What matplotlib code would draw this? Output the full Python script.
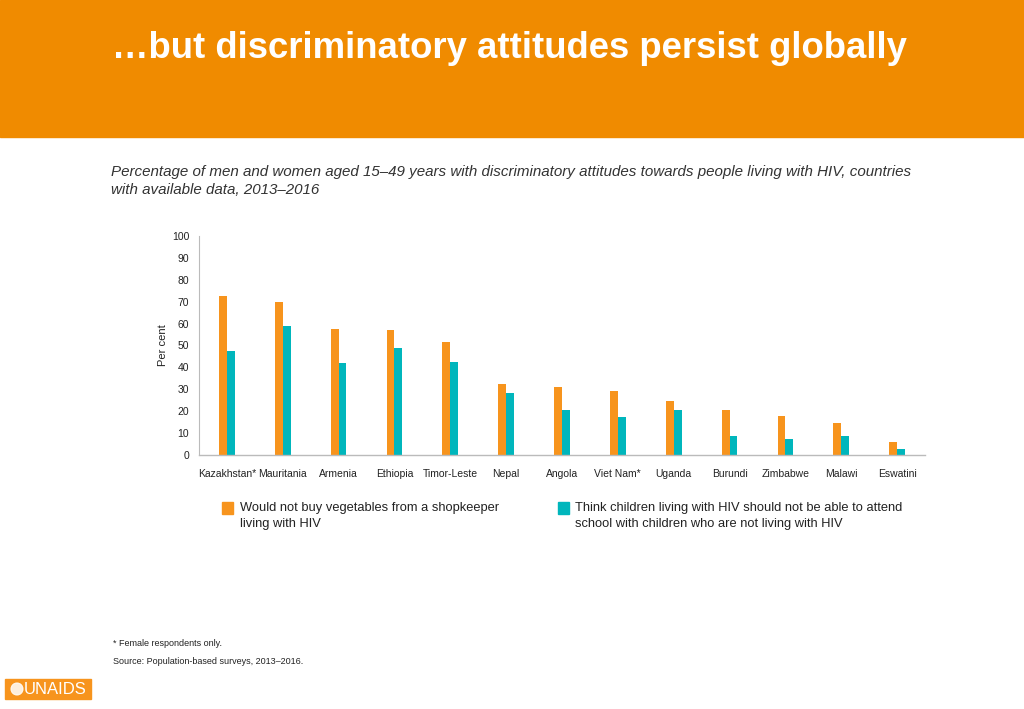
import matplotlib
matplotlib.use("Agg")
import matplotlib.pyplot as plt
from matplotlib.patches import Rectangle, Ellipse
import numpy as np

plt.rcParams['font.family'] = ['Liberation Sans', 'DejaVu Sans']

countries = ["Kazakhstan*", "Mauritania", "Armenia", "Ethiopia", "Timor-Leste", "Nepal",
             "Angola", "Viet Nam*", "Uganda", "Burundi", "Zimbabwe", "Malawi", "Eswatini"]
vegetables = [72.4, 70.0, 57.7, 57.3, 51.6, 32.5, 31.0, 29.2, 24.8, 20.4, 17.9, 14.8, 5.9]
school = [47.4, 59.1, 41.9, 48.8, 42.4, 28.3, 20.7, 17.5, 20.7, 8.5, 7.3, 8.5, 2.6]
yticks = [0, 10, 20, 30, 40, 50, 60, 70, 80, 90, 100]

title = "\u2026but discriminatory attitudes persist globally"
subtitle = ("Percentage of men and women aged 15\u201349 years with discriminatory attitudes towards people living with HIV, countries\n"
            "with available data, 2013\u20132016")
legend_labels = ["Would not buy vegetables from a shopkeeper\nliving with HIV",
                 "Think children living with HIV should not be able to attend\nschool with children who are not living with HIV"]

ORANGE = "#F7941D"
TEAL = "#00B6BC"
HEADER = "#F08B00"

W, H = 1024, 709
fig = plt.figure(figsize=(W / 100, H / 100), dpi=100)

def fx(x):
    return x / W

def fy(y):
    return 1 - y / H

# header band
fig.patches.append(Rectangle((0, fy(137)), 1, 137 / H, transform=fig.transFigure,
                             color=HEADER, zorder=0))
fig.text(fx(112), fy(48), title, color="white", fontsize=26.3, fontweight="bold",
         va="center", ha="left")

fig.text(fx(111), fy(181), subtitle, color="#333333", fontsize=10.9, style="italic",
         va="center", ha="left", linespacing=1.35)

# axes
left, right, top, bottom = 199, 925, 236, 455
ax = fig.add_axes([fx(left), fy(bottom), (right - left) / W, (bottom - top) / H])
x = np.arange(len(countries))
bw = 0.14
ax.bar(x - bw / 2, vegetables, width=bw, color=ORANGE)
ax.bar(x + bw / 2, school, width=bw, color=TEAL)
ax.set_xlim(-0.5, len(countries) - 0.5)
ax.set_ylim(0, 100)
ax.set_yticks(yticks)
ax.set_xticks(x)
ax.set_xticklabels(countries, fontsize=7.5, color="#222222")
ax.tick_params(axis="both", length=0, labelsize=7.5, colors="#222222")
ax.tick_params(axis="x", pad=10)
ax.tick_params(axis="y", pad=7)
for s in ["top", "right"]:
    ax.spines[s].set_visible(False)
ax.spines["left"].set_color("#BBBBBB")
ax.spines["bottom"].set_color("#BBBBBB")
ax.spines["left"].set_linewidth(0.8)
ax.spines["bottom"].set_linewidth(1.0)
ax.set_ylabel("Per cent", fontsize=8, color="#222222", labelpad=3)

# legend
for (sx, tx, col, lab) in [(222, 240, ORANGE, legend_labels[0]), (558, 575, TEAL, legend_labels[1])]:
    fig.patches.append(Rectangle((fx(sx), fy(514)), 11 / W, 12 / H, transform=fig.transFigure,
                                 color=col))
    fig.text(fx(tx), fy(516), lab, fontsize=9.3, color="#222222", va="center", ha="left",
             linespacing=1.5)

fig.text(fx(113), fy(643), "* Female respondents only.", fontsize=6.5, color="#222222",
         va="center", ha="left")
fig.text(fx(113), fy(661), "Source: Population-based surveys, 2013\u20132016.", fontsize=6.5,
         color="#222222", va="center", ha="left")

# logo
fig.patches.append(Rectangle((fx(5), fy(699)), 86 / W, 20 / H, transform=fig.transFigure,
                             color=ORANGE))
fig.patches.append(Ellipse((fx(17), fy(689)), 12 / W, 12 / H, transform=fig.transFigure,
                           facecolor="white", edgecolor="white", linewidth=0.8, alpha=0.85))
fig.text(fx(24), fy(689.5), "UNAIDS", fontsize=12, color="white", va="center", ha="left")

fig.savefig("out.png", dpi=100, facecolor="white")
